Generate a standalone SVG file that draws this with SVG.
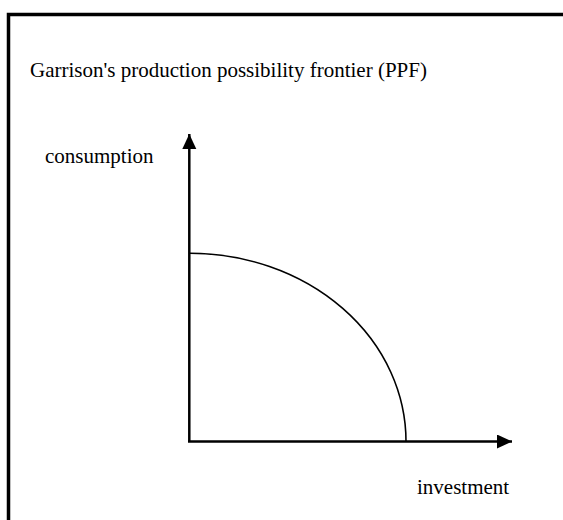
<svg xmlns="http://www.w3.org/2000/svg" width="563" height="520" viewBox="0 0 563 520">
<style>
text{font-family:"Liberation Serif","Times New Roman",serif;font-size:21px;fill:#000}
.axis{stroke:#000;stroke-width:2.5;fill:none}
.curve{stroke:#000;stroke-width:1.6;fill:none}
</style>
<defs>
<marker id="ah" markerUnits="userSpaceOnUse" markerWidth="16" markerHeight="16" viewBox="0 0 16 16" refX="15" refY="7" orient="auto">
<path d="M0,0 L15,7 L0,14 Z" fill="#000"/>
</marker>
</defs>
<rect x="8.5" y="14.5" width="570" height="520" fill="#fff" stroke="#000" stroke-width="3.5"/>
<g id="title"><text x="30" y="77">Garrison's production possibility frontier (PPF)</text></g>
<g id="connectors">
<line class="axis" x1="189.3" y1="442" x2="189.3" y2="134" marker-end="url(#ah)"/>
<line class="axis" x1="188" y1="441.5" x2="512" y2="441.5" marker-end="url(#ah)"/>
</g>
<g id="ppf"><path class="curve" d="M190,253.3 A216,188.2 0 0 1 406,441.5"/></g>
<g id="label-consumption"><text x="45" y="163">consumption</text></g>
<g id="label-investment"><text x="417" y="494">investment</text></g>
</svg>
